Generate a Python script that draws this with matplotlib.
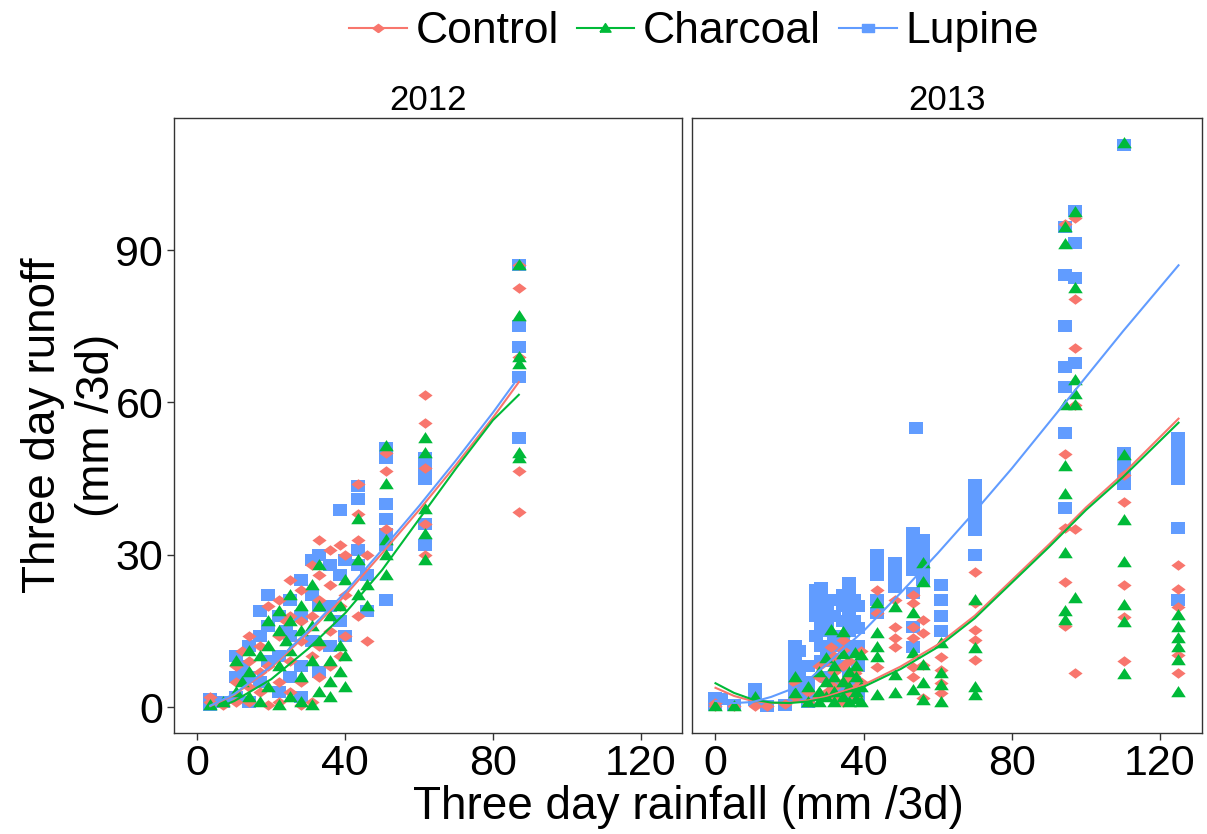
# **** imports ****
import matplotlib
matplotlib.use('Agg')
import matplotlib.pyplot as plt             # for plotting
from matplotlib.lines import Line2D         # for legend handles

plt.rcParams['font.family'] = ['Liberation Sans', 'DejaVu Sans']

# **** colours (ggplot hue palette) ****
col_control = '#F8766D'
col_charcoal = '#00BA38'
col_lupine = '#619CFF'

# **** 2012 data: three day rainfall vs three day runoff ****
rain_control_2012 = [3.5, 3.5, 7, 10.5, 10.5, 10.5, 12, 14, 14, 14, 14, 17, 17, 17, 19, 19, 19,
                     22, 22, 22, 22, 24, 25, 25, 25, 25, 28, 28, 28, 28, 28, 31, 31, 31, 31,
                     33, 33, 33, 33, 33, 36, 36, 36, 36, 38.5, 38.5, 38.5, 40, 40, 40,
                     43.5, 43.5, 43.5, 43.5, 46, 46, 51, 51, 51,
                     61.5, 61.5, 61.5, 61.5, 61.5, 87, 87, 87, 87, 87]
runoff_control_2012 = [1, 2, 0.5, 8, 5, 1, 11, 14, 9, 4, 1, 12, 3, 7, 20, 8, 0.5,
                       21, 14, 5, 1, 17, 25, 18, 9, 3, 23, 13, 5, 0.5, 17, 28, 18, 10, 1,
                       33, 26, 12, 6, 21, 31, 24, 15, 8, 32, 20, 10, 30, 22, 14,
                       44, 38, 33, 18, 30, 13, 50, 46.5, 35,
                       61.5, 56, 47, 36, 30, 87, 82.5, 69, 46.5, 38.5]

rain_charcoal_2012 = [3.5, 7, 10.5, 10.5, 12, 14, 14, 14, 17, 17, 19, 19, 19,
                      22, 22, 22, 22, 24, 25, 25, 25, 25, 28, 28, 28, 28, 31, 31, 31, 31,
                      33, 33, 33, 33, 36, 36, 36, 36, 38.5, 38.5, 38.5, 40, 40, 40,
                      43.5, 43.5, 43.5, 46, 46, 51, 51, 51, 51, 51,
                      61.5, 61.5, 61.5, 61.5, 61.5, 87, 87, 87, 87, 87, 87]
runoff_charcoal_2012 = [0.5, 1, 3, 9, 5, 2, 7, 11, 1, 10, 4, 12, 17,
                        0.5, 8, 15, 19, 13, 2, 11, 17, 22, 1, 6, 15, 20, 0.5, 9, 16, 24,
                        3, 13, 20, 28, 5, 9, 18, 2, 7, 12, 20, 10, 25, 4,
                        37, 29, 22, 24, 20, 51.5, 44, 33, 30, 26,
                        53, 50, 39, 34, 29, 87, 77, 69, 67.5, 50, 49]

rain_lupine_2012 = [3.5, 3.5, 7, 10.5, 10.5, 10.5, 12, 14, 14, 14, 17, 17, 17, 19, 19, 19,
                    22, 22, 22, 24, 25, 25, 25, 28, 28, 28, 28, 31, 31, 31, 33, 33, 33,
                    36, 36, 36, 38.5, 38.5, 38.5, 40, 40, 43.5, 43.5, 43.5, 43.5, 46, 46,
                    51, 51, 51, 51, 51, 51, 51, 61.5, 61.5, 61.5, 61.5, 61.5,
                    87, 87, 87, 87, 87]
runoff_lupine_2012 = [0.5, 1.5, 1, 10, 6, 2, 8, 12, 6, 1, 19, 14, 5, 22, 16, 9,
                      18, 10, 3, 15, 21, 14, 6, 25, 18, 8, 2, 29, 22, 13, 30, 20, 7,
                      28, 20, 12, 38.8, 26, 17, 29, 14, 43.5, 41, 31, 28, 26, 19,
                      51, 49, 40, 37, 34, 32, 21, 49, 47, 45, 36, 32,
                      87, 75, 71, 65, 53]

# **** 2013 data ****
rain_control_2013 = [0, 0, 5, 10.6, 14, 18.8, 21.5, 21.5, 25, 25, 28, 28, 28,
                     30, 30, 30, 31.2, 32, 32, 32, 32, 34.5, 34.5, 34.5, 34.5, 34.5,
                     36, 36, 36, 37.7, 38, 38, 38, 39.4, 39.4,
                     43.7, 43.7, 43.7, 48.5, 48.5, 48.5, 48.5,
                     53.4, 53.4, 53.4, 53.4, 53.4, 53.4, 56.1, 56.1, 56.1, 56.1,
                     60.8, 60.8, 60.8, 60.8, 70.1, 70.1, 70.1, 70.1, 70.1,
                     94.4, 94.4, 94.4, 94.4, 94.4, 97.1, 97.1, 97.1, 97.1, 97.1, 97.1,
                     110.2, 110.2, 110.2, 110.2, 110.2, 124.8, 124.8, 124.8, 124.8, 124.8]
runoff_control_2013 = [0.2, 0.8, 0.3, 0.2, 0.3, 0.6, 4.7, 2, 1, 3, 6, 2, 8,
                       5, 9, 3, 11.8, 4, 7, 2, 10, 13.2, 11.2, 1, 5, 8,
                       6, 3, 9, 6.7, 7.3, 2, 4, 11, 5,
                       23, 18.5, 7.9, 21, 15.8, 13.6, 11.8,
                       22, 20.5, 15.8, 13.6, 7.9, 5.9, 17.1, 14.6, 8.3, 1.8,
                       9.8, 7.3, 4.7, 2.8, 26.6, 20.5, 15.2, 13.2, 9.3,
                       95.1, 49.8, 35.3, 24.6, 16, 96.3, 80.4, 70.7, 59.5, 35, 6.7,
                       45.7, 40.4, 24, 17.7, 9, 28, 23.2, 19.7, 10.2, 6.7]

rain_charcoal_2013 = [0, 5, 10.6, 21.5, 21.5, 25, 25, 28, 28, 28, 29.8, 29.8, 29.8,
                      31.2, 32, 32, 32, 32, 34.5, 34.5, 34.5, 34.5, 36, 36, 36,
                      37.7, 38, 38, 38, 38, 39.4, 39.4, 39.4,
                      43.7, 43.7, 43.7, 43.7, 43.7, 48.5, 48.5, 48.5,
                      53.4, 53.4, 53.4, 56.1, 56.1, 56.1, 56.1, 56.1,
                      60.8, 60.8, 60.8, 60.8, 70.1, 70.1, 70.1, 70.1,
                      94.4, 94.4, 94.4, 94.4, 94.4, 94.4, 94.4, 94.4,
                      97.1, 97.1, 97.1, 97.1, 97.1, 97.1,
                      110.2, 110.2, 110.2, 110.2, 110.2, 110.2, 110.2,
                      124.8, 124.8, 124.8, 124.8, 124.8, 124.8]
runoff_charcoal_2013 = [0.3, 0.2, 2, 5.9, 2.8, 1, 4, 3, 7, 1, 9.6, 5, 2,
                        15.2, 6, 3, 1, 8, 14.8, 10.5, 2, 5, 4, 1, 7,
                        10.6, 6, 3, 1.5, 8, 10.2, 4, 1,
                        20.5, 14.6, 11.8, 9.8, 2.4, 19.7, 6.3, 2.8,
                        18.5, 10.6, 3.3, 28.4, 24.6, 8.3, 4.7, 1.4,
                        12.6, 6.7, 4.3, 1, 21.1, 11.6, 3.9, 2.4,
                        94.5, 91.2, 59.5, 47.5, 42, 30.3, 19, 17.1,
                        97.5, 82.5, 64.4, 61.7, 59.5, 21.4,
                        111, 49.6, 36.8, 28.6, 20.1, 16.7, 6.5,
                        18.1, 15.8, 13.6, 11.8, 9.3, 3]

rain_lupine_2013 = [0, 0, 0, 1.5, 5, 10.6, 10.6, 10.6, 14, 18.8,
                    21.5, 21.5, 21.5, 21.5, 21.5, 21.5, 22.5, 22.5, 22.5, 25, 25, 25, 25,
                    27, 27, 27, 27, 27, 28.5, 28.5, 28.5, 28.5, 28.5,
                    30, 30, 30, 30, 30, 30, 30, 32, 32, 32, 32, 32, 32,
                    34.5, 34.5, 34.5, 34.5, 34.5, 34.5, 36.1, 36.1, 36.1, 36.1, 36.1, 36.1,
                    37.5, 37.5, 37.5, 37.5, 38.5, 38.5, 38.5, 38.5, 38.5,
                    43.7, 43.7, 43.7, 43.7, 43.7, 48.5, 48.5, 48.5,
                    53.4, 53.4, 53.4, 53.4, 53.4, 53.4, 53.4, 53.4, 54.2,
                    56.1, 56.1, 56.1, 56.1, 56.1, 60.8, 60.8, 60.8, 60.8,
                    70.1, 70.1, 70.1, 70.1, 70.1, 70.1, 70.1,
                    94.4, 94.4, 94.4, 94.4, 94.4, 94.4, 94.4,
                    97.1, 97.1, 97.1, 97.1, 110.2, 110.2, 110.2, 110.2, 110.2,
                    124.8, 124.8, 124.8, 124.8, 124.8, 124.8, 124.8]
runoff_lupine_2013 = [0.5, 1.2, 1.8, 1.5, 0.5, 1.4, 2.5, 3.6, 0.3, 0.5,
                      2, 4, 6, 8, 10, 12, 3, 7, 11, 1, 3, 5, 8,
                      18, 20, 21.5, 23, 14, 12, 16, 19, 23.4, 9,
                      20, 21, 19, 15, 10, 6, 17, 21, 18, 14, 9, 4, 12,
                      22, 20, 17, 13, 8, 3, 24.4, 23.5, 19, 12, 6, 15,
                      21, 17, 11, 5, 20, 15.5, 8, 2, 12,
                      30, 28, 26, 21, 18.5, 28.4, 26, 23.6,
                      34.3, 32.3, 30.3, 29, 27, 22.5, 15.8, 11.8, 55,
                      33, 31, 29, 27, 25, 24, 21, 18, 15,
                      43.7, 42, 40.2, 38.4, 36.8, 34.9, 30,
                      94.5, 85.1, 75.1, 67, 63.1, 54, 39.2,
                      97.6, 91.4, 84.5, 67.8, 110.7, 50, 48, 46, 44,
                      53, 51, 49, 47, 45, 35.3, 21.1]

# **** smoother values ****
smooth_rain_2012 = [3.5, 10, 20, 30, 40, 50, 60, 70, 80, 87]
smooth_control_2012 = [0.2, 2.4, 7.8, 14.6, 22, 30.3, 38.8, 47.7, 57, 64]
smooth_lupine_2012 = [0.3, 2.6, 8.1, 15, 22.6, 31, 39.6, 48.6, 58, 65]
smooth_rain_charcoal_2012 = [7, 10, 20, 30, 40, 50, 60, 70, 80, 87]
smooth_charcoal_2012 = [0.3, 1.2, 5.5, 11.5, 18.5, 27, 37, 47, 56.5, 61.5]

smooth_rain_2013 = [0, 5, 10, 15, 20, 25, 30, 40, 50, 60, 70, 80, 90, 100, 110, 125]
smooth_control_2013 = [3.8, 2.2, 1.2, 0.8, 0.9, 1.3, 2.1, 4.4, 8, 12.3, 18, 25, 32, 39.3, 45.9, 56.8]
smooth_charcoal_2013 = [4.7, 2.8, 1.5, 0.9, 0.8, 1.1, 1.8, 4, 7.5, 11.8, 17.5, 24.5, 31.5, 38.8, 45.3, 56]
smooth_lupine_2013 = [1.2, 0.8, 1.0, 2.0, 3.4, 5.3, 8.5, 15, 22.5, 30.3, 38.5, 47, 56, 65, 74, 87]

years = ['2012', '2013']
x_ticks = [0, 40, 80, 120]
y_ticks = [0, 30, 60, 90]

# **** marker shapes (stretched like the original image) ****
mk_diamond = [(0, -1), (1.35, 0), (0, 1), (-1.35, 0), (0, -1)]
mk_triangle = [(-1.3, -0.85), (1.3, -0.85), (0, 1.15), (-1.3, -0.85)]
mk_square = [(-1.3, -1), (1.3, -1), (1.3, 1), (-1.3, 1), (-1.3, -1)]

# **** figure and panels ****
fig = plt.figure(figsize=(12.07, 8.34), dpi=100)
ax1 = fig.add_axes([0.1444, 0.1211, 0.4209, 0.7374])
ax2 = fig.add_axes([0.5736, 0.1211, 0.4220, 0.7374], sharey=ax1)

panels = [
    (ax1, rain_control_2012, runoff_control_2012, rain_charcoal_2012, runoff_charcoal_2012,
     rain_lupine_2012, runoff_lupine_2012,
     (smooth_rain_2012, smooth_control_2012), (smooth_rain_charcoal_2012, smooth_charcoal_2012),
     (smooth_rain_2012, smooth_lupine_2012)),
    (ax2, rain_control_2013, runoff_control_2013, rain_charcoal_2013, runoff_charcoal_2013,
     rain_lupine_2013, runoff_lupine_2013,
     (smooth_rain_2013, smooth_control_2013), (smooth_rain_2013, smooth_charcoal_2013),
     (smooth_rain_2013, smooth_lupine_2013)),
]

for i, (ax, rc, yc, rch, ych, rl, yl, sc, sch, sl) in enumerate(panels):
    # **** points ****
    ax.scatter(rl, yl, marker=mk_square, s=110, color=col_lupine, linewidths=0, zorder=2)
    ax.scatter(rc, yc, marker=mk_diamond, s=105, color=col_control, linewidths=0, zorder=3)
    ax.scatter(rch, ych, marker=mk_triangle, s=110, color=col_charcoal, linewidths=0, zorder=4)

    # **** smooth lines ****
    ax.plot(sc[0], sc[1], color=col_control, lw=1.5, zorder=5)
    ax.plot(sch[0], sch[1], color=col_charcoal, lw=1.5, zorder=6)
    ax.plot(sl[0], sl[1], color=col_lupine, lw=1.5, zorder=7)

    ax.set_xlim(-6.25, 131.25)
    ax.set_ylim(-5.1, 116)
    ax.set_xticks(x_ticks)
    ax.set_yticks(y_ticks)
    ax.tick_params(axis='both', direction='out', length=5, width=1, color='#333333',
                   labelsize=31, pad=3)
    for sp in ax.spines.values():
        sp.set_color('#333333')
        sp.set_linewidth(1)
    ax.set_title(years[i], fontsize=25, pad=6)

ax2.tick_params(axis='y', left=False, labelleft=False)

# **** axis titles ****
fig.text(0.57, 0.032, 'Three day rainfall (mm /3d)', fontsize=33, ha='center', va='center')
fig.text(0.058, 0.49, 'Three day runoff\n(mm /3d)', fontsize=33, ha='center', va='center',
         rotation=90, multialignment='center', linespacing=1.3)

# **** legend ****
handles = [
    Line2D([0], [0], color=col_control, lw=1.5, marker=mk_diamond, markersize=8),
    Line2D([0], [0], color=col_charcoal, lw=1.5, marker=mk_triangle, markersize=8),
    Line2D([0], [0], color=col_lupine, lw=1.5, marker=mk_square, markersize=8),
]
fig.legend(handles, ['Control', 'Charcoal', 'Lupine'], loc='center', bbox_to_anchor=(0.575, 0.962),
           ncol=3, frameon=False, fontsize=32, handlelength=1.3, handletextpad=0.2,
           columnspacing=0.4)

plt.savefig('out.png', dpi=100)
